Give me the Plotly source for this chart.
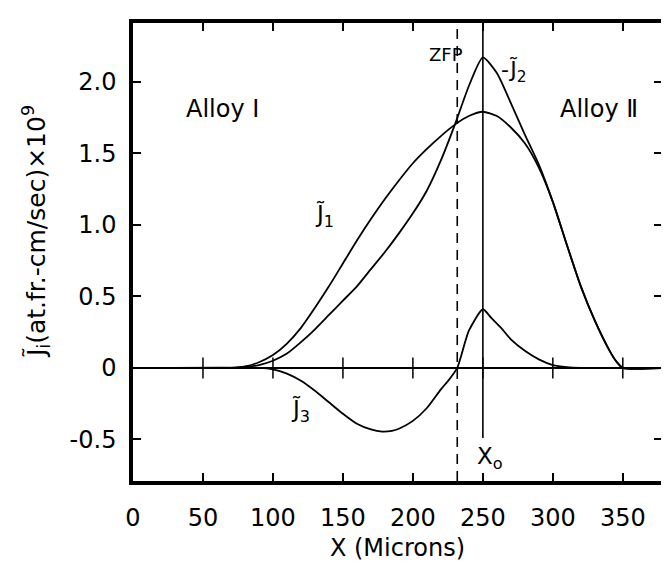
import plotly.graph_objects as go

# ---- data ----
x_j1 = [0, 70, 80, 90, 100, 110, 120, 130, 140, 150, 160, 170, 180, 190, 200, 210, 220, 230, 240, 250,
        260, 270, 280, 290, 300, 310, 320, 330, 340, 345, 350, 380]
j1 = [0, 0, 0.01, 0.04, 0.09, 0.17, 0.28, 0.42, 0.57, 0.73, 0.89, 1.04, 1.18, 1.31, 1.43, 1.53, 1.62, 1.70, 1.76, 1.79,
      1.76, 1.68, 1.57, 1.40, 1.16, 0.86, 0.57, 0.33, 0.13, 0.05, 0.0, 0]

x_j2 = [0, 70, 80, 90, 100, 110, 120, 130, 140, 150, 160, 170, 180, 190, 200, 210, 220, 230, 240, 250,
        260, 270, 280, 290, 300, 310, 320, 330, 340, 345, 350, 380]
neg_j2 = [0, 0, 0.005, 0.02, 0.05, 0.10, 0.18, 0.27, 0.37, 0.47, 0.57, 0.69, 0.81, 0.94, 1.08, 1.24, 1.45, 1.70, 1.97, 2.17,
          2.06, 1.85, 1.63, 1.42, 1.16, 0.86, 0.57, 0.33, 0.13, 0.05, 0.0, 0]

x_j3 = [0, 90, 100, 110, 120, 130, 140, 150, 160, 170, 178, 185, 190, 200, 210, 220, 226, 231.7, 240, 250,
        256, 263, 270, 280, 290, 300, 310, 320, 380]
j3 = [0, 0, -0.01, -0.04, -0.09, -0.16, -0.24, -0.32, -0.39, -0.43, -0.445, -0.44, -0.425, -0.37, -0.28, -0.15, -0.08, 0.0, 0.26, 0.41,
      0.35, 0.28, 0.20, 0.12, 0.06, 0.02, 0.005, 0, 0]

x_ticks = [0, 50, 100, 150, 200, 250, 300, 350]
y_ticks = [-0.5, 0, 0.5, 1.0, 1.5, 2.0]
y_tick_text = ["-0.5", "0", "0.5", "1.0", "1.5", "2.0"]
x_zfp = 231.7
x_o = 250
x_range = [0, 378]
y_range = [-0.79, 2.41]

FONT = "DejaVu Sans"
fig = go.Figure()

line_style = dict(color="black", width=1.8, shape="spline", smoothing=0.6)
fig.add_trace(go.Scatter(x=x_j1, y=j1, mode="lines", line=line_style, showlegend=False, hoverinfo="skip"))
fig.add_trace(go.Scatter(x=x_j2, y=neg_j2, mode="lines", line=line_style, showlegend=False, hoverinfo="skip"))
fig.add_trace(go.Scatter(x=x_j3, y=j3, mode="lines", line=line_style, showlegend=False, hoverinfo="skip"))

# tick crosses on the zero line
fig.add_trace(go.Scatter(x=x_ticks[1:], y=[0] * (len(x_ticks) - 1), mode="markers",
                         marker=dict(symbol="line-ns", size=15, line=dict(color="black", width=1.5)),
                         showlegend=False, hoverinfo="skip"))

# ZFP dashed line and X0 line
fig.add_shape(type="line", x0=x_zfp, x1=x_zfp, y0=y_range[0], y1=y_range[1], xref="x", yref="y",
              line=dict(color="black", width=1.6, dash="10px,7px"))
fig.add_shape(type="line", x0=x_o, x1=x_o, y0=-0.49, y1=y_range[1], xref="x", yref="y",
              line=dict(color="black", width=1.6))

annots = [
    ("Alloy Ⅰ", 64, 1.81, 24),
    ("Alloy Ⅱ", 333, 1.81, 24),
    ("ZFP", 224, 2.19, 18),
    ("-J̃<sub>2</sub>", 272, 2.07, 22),
    ("J̃<sub>1</sub>", 137, 1.06, 23),
    ("J̃<sub>3</sub>", 120, -0.30, 23),
    ("X<sub>o</sub>", 255, -0.63, 23),
]
for txt, ax_, ay_, sz in annots:
    fig.add_annotation(x=ax_, y=ay_, text=txt, showarrow=False, xref="x", yref="y",
                       xanchor="center", yanchor="middle",
                       font=dict(family=FONT, size=sz, color="black"))

# y title
fig.add_annotation(x=-0.182, y=0.545, xref="paper", yref="paper", textangle=-90, showarrow=False,
                   xanchor="center", yanchor="middle",
                   text="J̃<sub>i</sub>(at.fr.-cm/sec)×10<sup>9</sup>",
                   font=dict(family=FONT, size=25, color="black"))

fig.update_xaxes(range=x_range, tickvals=x_ticks, ticktext=[str(v) for v in x_ticks],
                 ticks="inside", ticklen=8, tickwidth=1.5, tickcolor="black",
                 showline=True, linewidth=3.5, linecolor="black", mirror="ticks",
                 showgrid=False, zeroline=False, ticklabelstandoff=12,
                 tickfont=dict(family=FONT, size=24, color="black"),
                 title=dict(text="X (Microns)", font=dict(family=FONT, size=24, color="black"), standoff=10))
fig.update_yaxes(range=y_range, tickvals=y_ticks, ticktext=y_tick_text,
                 ticks="inside", ticklen=8, tickwidth=1.5, tickcolor="black",
                 showline=True, linewidth=3.5, linecolor="black", mirror="ticks",
                 showgrid=False, zeroline=True, zerolinecolor="black", zerolinewidth=1.6,
                 tickfont=dict(family=FONT, size=24, color="black"), ticklabelstandoff=8)

fig.update_layout(width=669, height=561, margin=dict(l=125, r=11, t=13, b=88),
                  plot_bgcolor="white", paper_bgcolor="white", showlegend=False)

fig.write_html("out.html")
